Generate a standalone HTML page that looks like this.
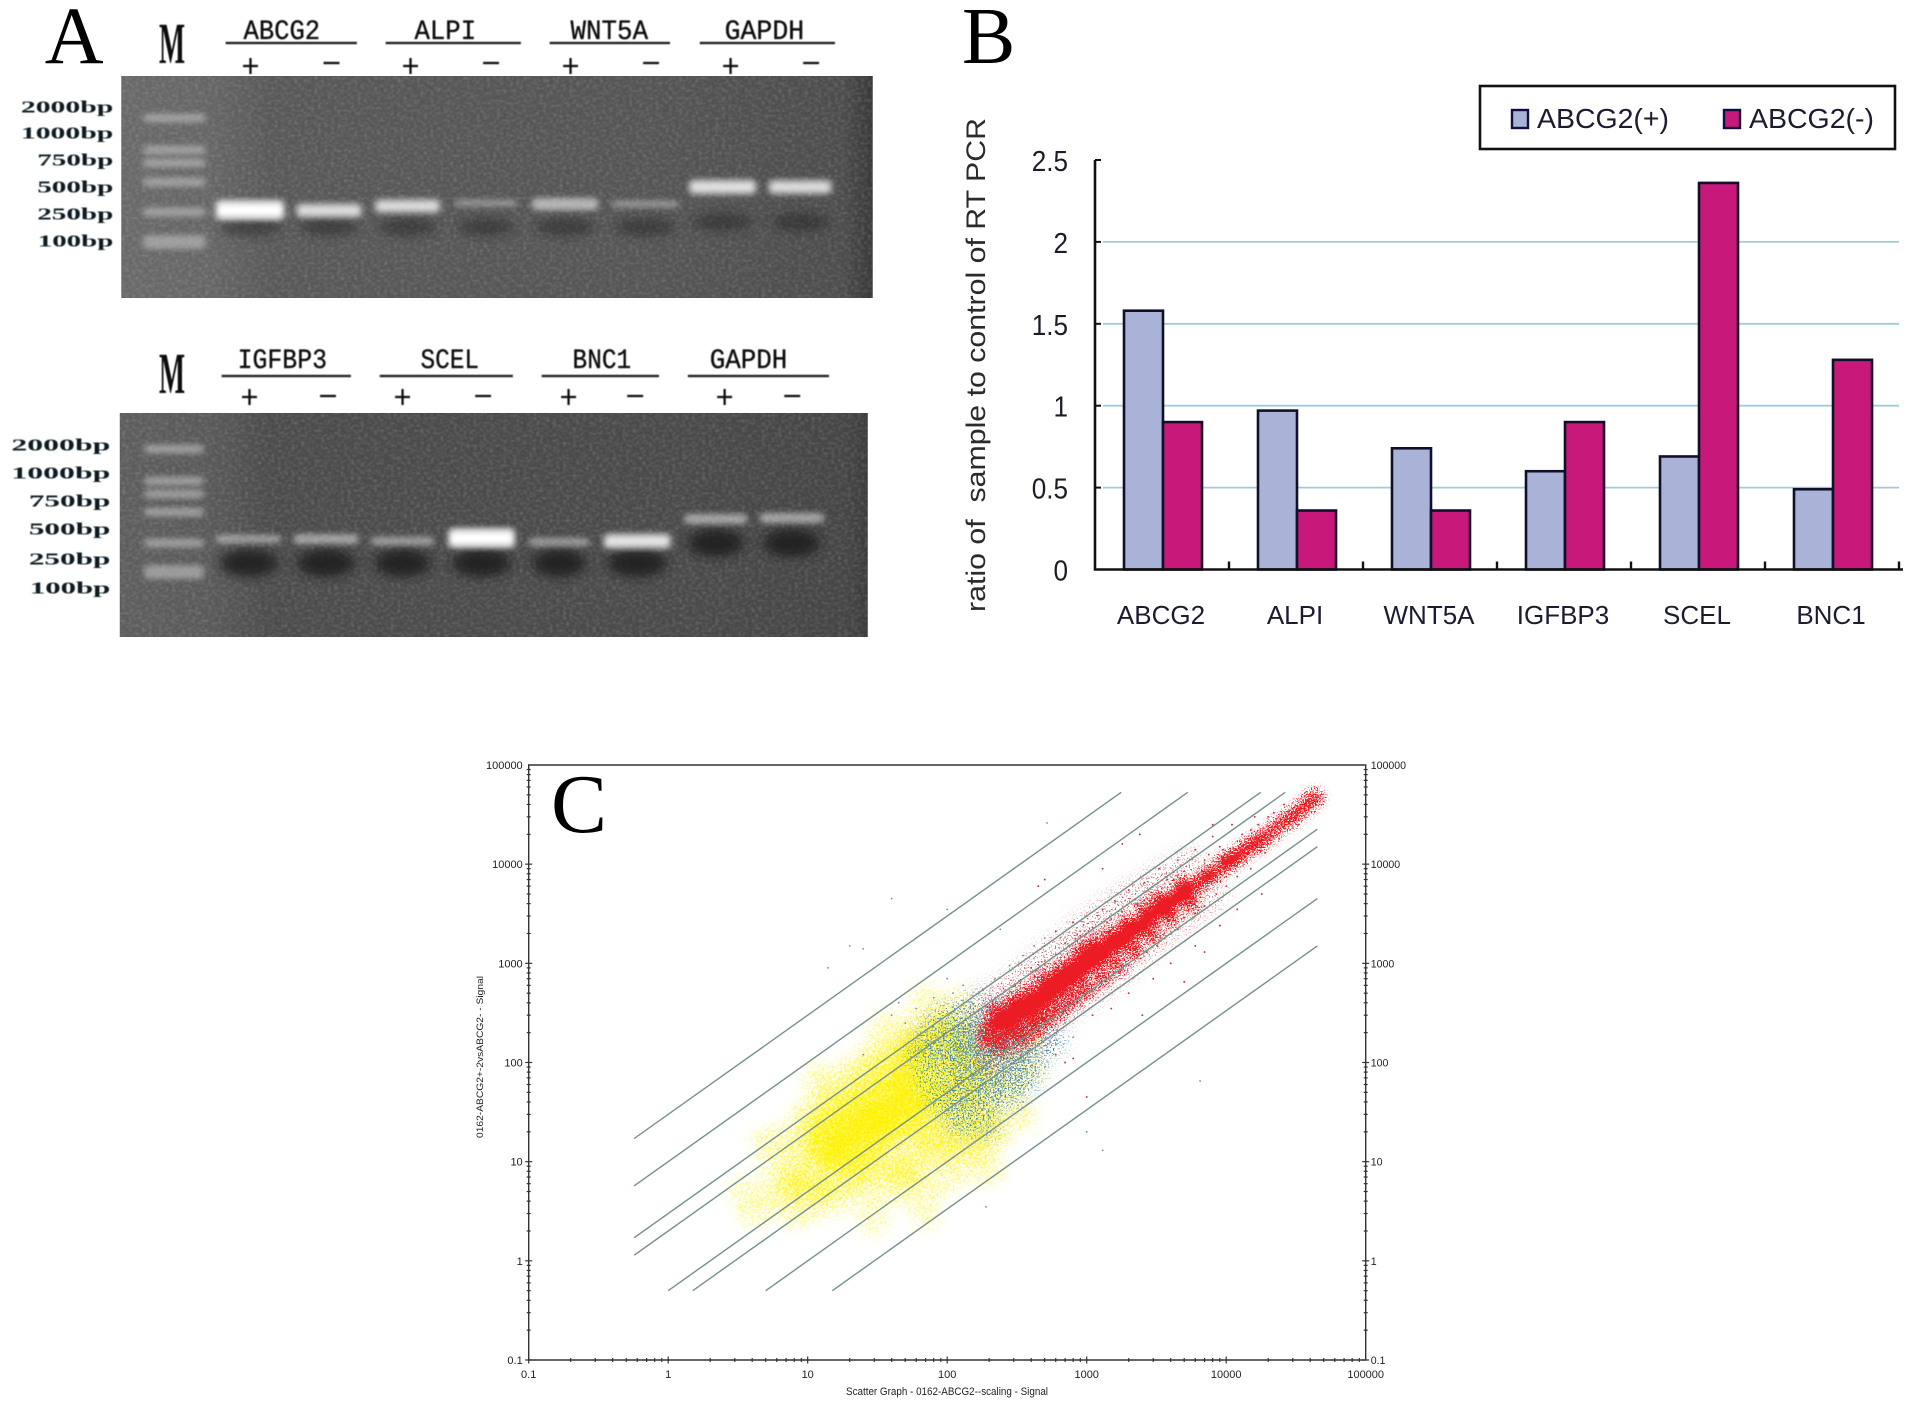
<!DOCTYPE html>
<html lang="en">
<head>
<meta charset="utf-8">
<title>RT-PCR gels, expression ratios and scatter graph</title>
<style>
html,body{margin:0;padding:0;background:#fff;}
svg{display:block;}
text{font-family:"Liberation Sans",sans-serif;white-space:pre;}
.mono{font-family:"Liberation Mono",monospace;}
.serif{font-family:"Liberation Serif",serif;}
</style>
</head>
<body>
<svg id="figure" xmlns="http://www.w3.org/2000/svg" width="1913" height="1419" viewBox="0 0 1913 1419">
<defs>
<linearGradient id="gelShade1" x1="0" x2="1" y1="0" y2="0">
<stop offset="0" stop-color="#686868"/><stop offset=".12" stop-color="#646464"/><stop offset=".2" stop-color="#575757"/><stop offset=".7" stop-color="#535353"/><stop offset=".96" stop-color="#4b4b4b"/><stop offset="1" stop-color="#373737"/>
</linearGradient>
<linearGradient id="gelShade2" x1="0" x2="1" y1="0" y2="0">
<stop offset="0" stop-color="#5c5c5c"/><stop offset=".12" stop-color="#585858"/><stop offset=".2" stop-color="#4a4a4a"/><stop offset=".75" stop-color="#484848"/><stop offset=".97" stop-color="#444"/><stop offset="1" stop-color="#3a3a3a"/>
</linearGradient>
<filter id="gelNoise" x="0" y="0" width="1" height="1" color-interpolation-filters="sRGB">
<feTurbulence type="fractalNoise" baseFrequency="0.3 0.4" numOctaves="3" seed="8"/>
<feColorMatrix type="matrix" values="0 0 0 0 1  0 0 0 0 1  0 0 0 0 1  1.6 0 0 0 -0.68"/>
<feGaussianBlur stdDeviation="0.7"/>
</filter>
<filter id="blur2" x="-30%" y="-150%" width="160%" height="400%"><feGaussianBlur stdDeviation="3.2 2.6"/></filter>
<filter id="blur1" x="-30%" y="-150%" width="160%" height="400%"><feGaussianBlur stdDeviation="2.4 1.7"/></filter>
<filter id="blur4" x="-30%" y="-100%" width="160%" height="300%"><feGaussianBlur stdDeviation="6 5"/></filter>
<filter id="soft" x="-5%" y="-5%" width="110%" height="110%"><feGaussianBlur stdDeviation="0.45"/></filter>
<clipPath id="clipGel1"><rect x="122" y="76" width="756" height="222"/></clipPath>
<clipPath id="clipGel2"><rect x="120.500" y="413" width="752.500" height="224"/></clipPath>
<filter id="stippleYellow" filterUnits="userSpaceOnUse" x="529" y="765" width="837" height="595" color-interpolation-filters="sRGB">
<feGaussianBlur in="SourceAlpha" stdDeviation="7" result="dens"/>
<feTurbulence type="fractalNoise" baseFrequency="0.75" numOctaves="2" seed="3"/>
<feColorMatrix type="matrix" values="0 0 0 0 0  0 0 0 0 0  0 0 0 0 0  3.5 0 0 0 -1.25" result="na"/>
<feComposite in="dens" in2="na" operator="arithmetic" k1="0" k2="1.12" k3="-1" k4="0"/>
<feComponentTransfer result="mask"><feFuncA type="linear" slope="6" intercept="0"/></feComponentTransfer>
<feFlood flood-color="#fff200"/><feComposite in2="mask" operator="in"/><feGaussianBlur stdDeviation="0.4"/>
</filter>
<filter id="stippleBlue" filterUnits="userSpaceOnUse" x="529" y="765" width="837" height="595" color-interpolation-filters="sRGB">
<feGaussianBlur in="SourceAlpha" stdDeviation="8" result="dens"/>
<feTurbulence type="fractalNoise" baseFrequency="0.6" numOctaves="2" seed="11"/>
<feColorMatrix type="matrix" values="0 0 0 0 0  0 0 0 0 0  0 0 0 0 0  3.5 0 0 0 -1.25" result="na"/>
<feComposite in="dens" in2="na" operator="arithmetic" k1="0" k2="1" k3="-1" k4="0"/>
<feComponentTransfer result="mask"><feFuncA type="linear" slope="7" intercept="0"/></feComponentTransfer>
<feFlood flood-color="#4f86b8"/><feComposite in2="mask" operator="in"/><feGaussianBlur stdDeviation="0.3"/>
</filter>
<filter id="stippleTeal" filterUnits="userSpaceOnUse" x="529" y="765" width="837" height="595" color-interpolation-filters="sRGB">
<feGaussianBlur in="SourceAlpha" stdDeviation="8" result="dens"/>
<feTurbulence type="fractalNoise" baseFrequency="0.6" numOctaves="2" seed="23"/>
<feColorMatrix type="matrix" values="0 0 0 0 0  0 0 0 0 0  0 0 0 0 0  3.5 0 0 0 -1.25" result="na"/>
<feComposite in="dens" in2="na" operator="arithmetic" k1="0" k2="1" k3="-1" k4="0"/>
<feComponentTransfer result="mask"><feFuncA type="linear" slope="7" intercept="0"/></feComponentTransfer>
<feFlood flood-color="#4a9488"/><feComposite in2="mask" operator="in"/><feGaussianBlur stdDeviation="0.3"/>
</filter>
<filter id="stippleFringe" filterUnits="userSpaceOnUse" x="529" y="765" width="837" height="595" color-interpolation-filters="sRGB">
<feGaussianBlur in="SourceAlpha" stdDeviation="9" result="dens"/>
<feTurbulence type="fractalNoise" baseFrequency="0.65" numOctaves="2" seed="31"/>
<feColorMatrix type="matrix" values="0 0 0 0 0  0 0 0 0 0  0 0 0 0 0  3.5 0 0 0 -1.25" result="na"/>
<feComposite in="dens" in2="na" operator="arithmetic" k1="0" k2="1" k3="-1" k4="0"/>
<feComponentTransfer result="mask"><feFuncA type="linear" slope="7" intercept="0"/></feComponentTransfer>
<feFlood flood-color="#b0303c"/><feComposite in2="mask" operator="in"/><feGaussianBlur stdDeviation="0.3"/>
</filter>
<filter id="stippleRed" filterUnits="userSpaceOnUse" x="529" y="765" width="837" height="595" color-interpolation-filters="sRGB">
<feGaussianBlur in="SourceAlpha" stdDeviation="4.5" result="dens"/>
<feTurbulence type="fractalNoise" baseFrequency="0.7" numOctaves="2" seed="5"/>
<feColorMatrix type="matrix" values="0 0 0 0 0  0 0 0 0 0  0 0 0 0 0  3.5 0 0 0 -1.25" result="na"/>
<feComposite in="dens" in2="na" operator="arithmetic" k1="0" k2="1.45" k3="-1" k4="0"/>
<feComponentTransfer result="mask"><feFuncA type="linear" slope="6" intercept="0"/></feComponentTransfer>
<feFlood flood-color="#ec1c24"/><feComposite in2="mask" operator="in"/><feGaussianBlur stdDeviation="0.3"/>
</filter>
</defs>

<g id="panelA" transform="scale(0.994 1)"></g>
<g id="panelB"></g>
<g id="panelC"></g>
</svg>

<script>
/* ---------- Panel B data ---------- */
const barCategories = ['ABCG2','ALPI','WNT5A','IGFBP3','SCEL','BNC1'];
const barPlusValues = [1.58,0.97,0.74,0.6,0.69,0.49];
const barMinusValues = [0.9,0.36,0.36,0.9,2.36,1.28];
const barTickLabels = ['0','0.5','1','1.5','2','2.5'];
const barTickValues = [0,0.5,1,1.5,2,2.5];
const barSeriesNames = ['ABCG2(+)','ABCG2(-)'];

/* ---------- Panel A data ---------- */
const gelLadderLabels = ['2000bp','1000bp','750bp','500bp','250bp','100bp'];
const gel1Genes = ['ABCG2','ALPI','WNT5A','GAPDH'];
const gel2Genes = ['IGFBP3','SCEL','BNC1','GAPDH'];
const gel1BandBp = [231,228,256,277,270,270,422,422];
const gel1BandIntensity = [1,0.62,0.6,0.08,0.45,0.1,0.66,0.62];
const gel2BandBp = [244,244,231,251,225,231,420,431];
const gel2BandIntensity = [0.2,0.3,0.22,1,0.2,0.7,0.32,0.32];

/* ---------- Panel C data (signal units) ---------- */
const scatterTickLabels = ['0.1','1','10','100','1000','10000','100000'];
const scatterTickValues = [0.1,1,10,100,1000,10000,100000];
const foldChangeLines = [30,10,3,2,0.5,0.3333,0.1,0.0333];
const yellowCorePoints = [[12,12],[14,17],[16,13],[18,22],[20,15],[22,28],[24,19],[26,12],[28,33],[30,24],[32,16],[35,40],[38,28],[40,20],[45,48],[48,32],[52,24],[58,42],[62,30],[70,50],[14,10],[18,11],[22,10],[12,20],[16,27],[20,35],[26,45],[33,55],[42,65],[55,70],[25,25],[30,30],[35,22],[20,20],[40,38],[17,16],[28,18],[50,40],[15,13],[33,27]];
const yellowMidPoints = [[8,7],[9,13],[7,5],[10,6],[11,25],[14,38],[18,50],[24,70],[30,90],[40,110],[50,140],[65,170],[85,200],[60,95],[80,75],[100,60],[120,45],[150,40],[90,35],[70,22],[100,25],[130,20],[85,15],[60,14],[40,11],[30,8],[22,7],[16,6],[12,5],[180,30],[60,8],[100,12],[150,14],[200,20],[45,7],[110,90],[75,120],[140,70],[45,85],[200,60],[100,150],[130,110],[60,140],[90,250],[120,180],[170,90],[50,60],[75,50]];
const yellowSparsePoints = [[5,4],[6,8],[4,3],[6,13],[8,20],[10,32],[14,55],[20,85],[30,130],[45,190],[60,260],[90,300],[130,260],[170,170],[250,120],[300,70],[280,40],[250,22],[180,12],[130,8],[90,6],[60,5],[40,5],[25,4.5],[16,4],[10,3.5],[8,3],[3.5,5],[5,16],[12,70],[35,230],[70,450],[130,420],[400,90],[350,30],[200,8],[70,3],[30,2.5],[400,180]];
const bluePoints = [[130,170],[160,220],[190,140],[220,110],[170,90],[250,190],[290,130],[350,100],[150,120],[120,100],[300,80],[400,160],[200,300],[260,300],[140,250],[180,70],[240,70],[110,140],[350,220],[450,120],[100,220],[130,320],[500,200],[200,190],[230,150],[170,170],[280,210],[80,130],[220,45],[300,45],[150,50],[130,35],[400,70],[110,60],[90,300],[70,200],[170,420],[110,25],[200,22],[600,160]];
const tealPoints = [[120,130],[140,180],[170,120],[200,90],[230,170],[260,130],[310,110],[150,90],[100,100],[90,170],[180,250],[240,260],[320,190],[380,120],[130,60],[170,55],[220,60],[280,60],[340,70],[110,40],[160,30],[200,35],[70,90],[75,60],[120,200],[190,170],[150,140],[210,130],[60,130],[90,40],[140,22]];
const redFringePoints = [[180,260],[220,420],[280,560],[360,720],[460,950],[600,1300],[800,1800],[1050,2400],[1400,3200],[1900,4300],[2700,5800],[3800,7600],[5500,10500],[200,110],[260,130],[340,170],[450,230],[600,300],[800,420],[1050,560],[1400,720],[1900,1000],[2700,1500],[3800,2200],[5500,3300],[8000,5000]];
const redBandPoints = [[190,170],[200,220],[220,260],[250,200],[260,320],[290,250],[320,210],[320,380],[360,300],[400,420],[420,280],[450,360],[480,520],[520,400],[550,600],[580,470],[640,560],[680,760],[720,600],[800,850],[850,700],[900,1050],[950,820],[1050,1000],[1100,1300],[1200,1050],[1300,1450],[1400,1200],[1550,1650],[1700,1500],[1800,2000],[2000,1800],[2200,2400],[2400,2200],[2700,2900],[3000,2800],[3300,3600],[3700,3500],[4000,4300],[4600,4700],[5300,5600],[6000,6000],[6900,7200],[8000,8000],[9500,10000],[11000,11000],[13000,13500],[15000,15000],[18000,18000],[21000,21000],[25000,26000],[29000,29000],[33000,34000],[38000,40000],[43000,47000],[250,260],[300,300],[350,350],[450,450],[600,600],[750,750],[1000,1000],[1250,1250],[1600,1600],[2100,2100],[2500,2500],[3500,3700],[4300,4500],[5000,5100],[7500,7600],[10000,10500],[12000,12000],[16500,16500],[220,340],[240,150],[300,420],[330,170],[380,500],[420,210],[480,680],[520,270],[600,780],[650,340],[720,950],[800,430],[900,1350],[1000,540],[1100,1600],[1300,720],[1450,1950],[1700,950],[1900,2500],[2200,1350],[2600,3500],[3000,1900],[3300,4500],[4000,2900],[4800,6200],[5600,4000]];
const redOutliers = [[400,900],[500,1500],[600,2100],[700,1600],[800,2600],[900,1900],[1000,3000],[1100,2300],[1300,3500],[1400,2600],[1600,4200],[1800,3300],[2000,5500],[2300,3900],[2600,6500],[2900,5200],[3300,9000],[3800,7000],[4500,11000],[5000,8500],[6000,14000],[7000,11000],[8000,19000],[9000,15000],[11000,25000],[13000,20000],[16000,30000],[20000,30000],[26000,40000],[600,1000],[900,1400],[1500,2800],[2800,4300],[4200,7000],[7500,12500],[15000,22000],[400,220],[500,280],[600,330],[700,350],[800,420],[900,520],[1000,450],[1200,600],[1400,700],[1700,800],[2000,950],[2300,1200],[2700,1300],[3200,1500],[3600,2000],[4500,2200],[5000,2900],[6000,3200],[7000,3800],[8500,5000],[10000,6000],[12000,7500],[15000,9000],[19000,13000],[24000,18000],[33000,25000],[1100,300],[1500,350],[2000,500],[3000,700],[4000,1000],[6000,1500],[9000,2400],[12000,3500],[18000,5000],[600,120],[800,110],[2500,300],[7000,1300],[5000,650],[500,7000],[450,6000],[1300,9000],[1800,16000],[2400,20000],[8000,25000],[1000,45],[700,100],[650,850],[850,1300],[1150,1700],[1450,2100],[1900,2800],[2400,3500],[3100,4500],[700,500],[950,700],[1250,950],[1650,1250],[2200,1650],[2800,2100],[3800,2800],[5200,4000],[7200,5500],[9500,14000],[12500,17000],[17000,25000],[22000,33000],[10000,7500],[14000,10500],[20000,16000]];
const greyOutliers = [[520,26000],[100,3500],[40,4500],[20,1500],[25,1400],[14,900],[200,2000],[240,2200],[6500,65],[1000,20],[1300,13],[190,3.5],[60,350],[80,450],[100,700],[110,500],[130,600],[150,450],[180,550],[220,700],[280,950],[350,1200],[420,1500],[500,1800],[600,300],[700,250],[800,180],[600,150],[500,90],[400,60],[350,40],[40,300],[50,250],[25,120],[45,400]];

/* ---------- helpers ---------- */
const NS = 'http://www.w3.org/2000/svg';
function mk(tag, parent, geo) {
  const el = document.createElementNS(NS, tag);
  for (const k in geo) el.setAttribute(k, geo[k]);
  parent.appendChild(el);
  return el;
}
function label(parent, str, geo, name) {
  const el = mk('text', parent, geo);
  el.textContent = str;
  
  
  return el;
}

/* ---------- Panel A ---------- */
const panelA = document.getElementById('panelA');
const gelLayouts = [
 {id:1, x:122, y:76, w:756, h:222, shade:'gelShade1', clip:'clipGel1', genes:gel1Genes, bp:gel1BandBp, inten:gel1BandIntensity,
  lanes:[[216,287],[297,365],[376,444],[456,522],[534,603],[614,684],[692,762],[772,838]],
  ladderRows:[118,150,163,182,212,242], ladderX:[144,207], y100:242, perDecade:88, smear:[227,227,227,227,227,227,222,222],
  labelRight:114, labelLeft:[21,21,37.5,37.5,37.5,38], labelY:[107,133,160,187,214,241],
  lineY:43, lines:[[227,359],[388,524],[553,674],[704,840]], names:[[245,322],[417,479],[574,652],[729,809]], nameBase:39, M:[160,63],
  plusX:[252,413,574,735], minusX:[333.5,494,655,816], plusY:66, minusY:63},
 {id:2, x:120.5, y:413, w:752.5, h:224, shade:'gelShade2', clip:'clipGel2', genes:gel2Genes, bp:gel2BandBp, inten:gel2BandIntensity,
  lanes:[[216,284],[294,362],[372,438],[450,519],[531,594],[606,676],[687,753],[763,830]],
  ladderRows:[449,481,494,512,543,572], ladderX:[145,205], y100:572, perDecade:85, smear:[563,563,563,563,563,563,543,543],
  labelRight:111, labelLeft:[11.5,11.5,29,29,29,30], labelY:[445,473,501,529,559,588],
  lineY:376, lines:[[223,353],[382,516],[545,663],[692,834]], names:[[239,329],[423,482],[576,635],[714,792]], nameBase:368, M:[160,393],
  plusX:[251,405,572,729], minusX:[330,486,639,797], plusY:397, minusY:396}
];
gelLayouts.forEach(function (g) {
  const group = mk('g', panelA, {});
  
  
  const base = mk('rect', group, {x:g.x, y:g.y, width:g.w, height:g.h, fill:'url(#' + g.shade + ')'});
  
  
  const inner = mk('g', group, {'clip-path':'url(#' + g.clip + ')'});
  const noise = mk('rect', inner, {x:g.x, y:g.y, width:g.w, height:g.h, filter:'url(#gelNoise)', opacity:0.3});
  
  
  g.ladderRows.forEach(function (ry, i) {
    const thick = i === 5 ? 14 : 9;
    const rung = mk('rect', inner, {x:g.ladderX[0], y:ry - thick / 2, width:g.ladderX[1] - g.ladderX[0], height:thick, rx:4, fill:'#b8b8b8', opacity:0.68, filter:'url(#blur2)'});
    
    
  });
  g.lanes.forEach(function (lane, i) {
    const cx = (lane[0] + lane[1]) / 2, rx = (lane[1] - lane[0]) / 2;
    const smear = mk('ellipse', inner, {cx:cx, cy:g.smear[i], rx:rx * 0.85, ry:g.id === 2 ? 14 : 9, fill:'#1e1e1e', opacity:g.id === 2 ? 0.85 : 0.45, filter:'url(#blur4)'});
    
    
    const y = g.y100 - g.perDecade * (Math.log10(g.bp[i]) - 2);
    const v = g.inten[i];
    const th = 6 + v * 14;
    const glow = mk('rect', inner, {x:lane[0] + 1, y:y - th / 2, width:lane[1] - lane[0] - 2, height:th, rx:5, fill:'#e4e4e4', opacity:0.35 + v * 0.65, filter:'url(#blur2)'});
    
    
    if (v >= 0.6) {
      const core = mk('rect', inner, {x:lane[0] + 5, y:y - th / 5, width:lane[1] - lane[0] - 10, height:th * 0.4, rx:2, fill:'#fff', opacity:v * v, filter:'url(#blur1)'});
      
      
    }
  });
  const textGroup = mk('g', group, {filter:'url(#soft)'});
  gelLadderLabels.forEach(function (s, i) {
    label(textGroup, s, {x:g.labelLeft[i], y:g.labelY[i] + 5.5, 'font-size':16.5, 'font-weight':'bold', fill:'#0b1d22', class:'serif', textLength:g.labelRight - g.labelLeft[i], lengthAdjust:'spacingAndGlyphs'}, 'ladder-label-' + s);
  });
  label(textGroup, 'M', {transform:'translate(' + g.M[0] + ',' + g.M[1] + ') scale(.48,1)', x:0, y:0, 'font-size':58, 'font-weight':'bold', fill:'#111', class:'serif'}, 'marker-lane-label');
  g.genes.forEach(function (name, i) {
    label(textGroup, name, {x:g.names[i][0], y:g.nameBase, 'font-size':28, fill:'#111', stroke:'#111', 'stroke-width':0.35, class:'mono', textLength:g.names[i][1] - g.names[i][0], lengthAdjust:'spacingAndGlyphs'}, 'gene-label-' + name.toLowerCase());
    const rule = mk('rect', textGroup, {x:g.lines[i][0], y:g.lineY - 1.2, width:g.lines[i][1] - g.lines[i][0], height:2.4, fill:'#222'});
    
    
    const pv = mk('path', textGroup, {d:'M' + (g.plusX[i] - 7.5) + ' ' + g.plusY + 'h15M' + g.plusX[i] + ' ' + (g.plusY - 8) + 'v16', stroke:'#111', 'stroke-width':2.3, fill:'none'});
    
    
    const mv = mk('path', textGroup, {d:'M' + (g.minusX[i] - 8) + ' ' + g.minusY + 'h16', stroke:'#111', 'stroke-width':2.3, fill:'none'});
    
    
  });
});
label(panelA, 'A', {x:45, y:63, 'font-size':82, fill:'#000', class:'serif'}, 'panel-letter-a');

/* ---------- Panel B ---------- */
const panelB = document.getElementById('panelB');
const bx0 = 1095, bStep = 134, bBase = 569.5, bUnit = 163.8, bBar = 39;
function barY(v) { return bBase - v * bUnit; }
function barX(i) { return bx0 + bStep * i + bStep / 2 + 1; }
label(panelB, 'B', {x:962, y:63, 'font-size':80, fill:'#000', class:'serif'}, 'panel-letter-b');
barTickValues.forEach(function (v, i) {
  if (v > 0 && v < 2.5) {
    const gl = mk('line', panelB, {x1:bx0 + 8, x2:bx0 + bStep * 6, y1:barY(v), y2:barY(v), stroke:'#a3cbd6', 'stroke-width':1.8});
    
    
  }
  label(panelB, barTickLabels[i], {x:1070, y:barY(v) + 11, 'font-size':29, fill:'#1c1c28', 'text-anchor':'end', transform:'translate(105,0) scale(.9,1)'}, 'y-tick-label');
  const tk = mk('line', panelB, {x1:bx0, x2:bx0 + 6, y1:barY(v), y2:barY(v), stroke:'#111', 'stroke-width':2});
  
  
});
barCategories.forEach(function (c, i) {
  const cx = barX(i);
  const plus = mk('rect', panelB, {x:cx - bBar, y:barY(barPlusValues[i]), width:bBar, height:barY(0) - barY(barPlusValues[i]), fill:'#a9b3d7', stroke:'#101028', 'stroke-width':2.6});
  
  
  const minus = mk('rect', panelB, {x:cx, y:barY(barMinusValues[i]), width:bBar, height:barY(0) - barY(barMinusValues[i]), fill:'#c8197a', stroke:'#101028', 'stroke-width':2.6});
  
  
  label(panelB, c, {x:cx - 2, y:624, 'font-size':26, fill:'#1c1c30', 'text-anchor':'middle'}, 'x-category-label');
  const tk = mk('line', panelB, {x1:bx0 + bStep * (i + 1), x2:bx0 + bStep * (i + 1), y1:bBase, y2:bBase - 8, stroke:'#111', 'stroke-width':2.4});
  
  
});
const yAxisB = mk('line', panelB, {x1:bx0, x2:bx0, y1:barY(2.5), y2:bBase + 1, stroke:'#111', 'stroke-width':2.6});


const xAxisB = mk('line', panelB, {x1:bx0 - 1, x2:bx0 + bStep * 6 + 4, y1:bBase, y2:bBase, stroke:'#111', 'stroke-width':2.6});


label(panelB, 'ratio of  sample to control of RT PCR', {transform:'translate(985,612) rotate(-90)', x:0, y:0, 'font-size':27, fill:'#2b2b2b', textLength:494, lengthAdjust:'spacingAndGlyphs'}, 'y-axis-title');
const legendB = mk('g', panelB, {});


const legBox = mk('rect', legendB, {x:1480, y:86, width:415, height:63, fill:'#fff', stroke:'#111', 'stroke-width':2.6});


const sw1 = mk('rect', legendB, {x:1512, y:110, width:16, height:18, fill:'#a9b3d7', stroke:'#101040', 'stroke-width':2.4});


label(legendB, barSeriesNames[0], {x:1537, y:128, 'font-size':28, fill:'#1c1c30', textLength:132, lengthAdjust:'spacingAndGlyphs'}, 'legend-entry-plus');
const sw2 = mk('rect', legendB, {x:1724, y:110, width:16, height:18, fill:'#c8197a', stroke:'#101040', 'stroke-width':2.4});


label(legendB, barSeriesNames[1], {x:1749, y:128, 'font-size':28, fill:'#1c1c30', textLength:125, lengthAdjust:'spacingAndGlyphs'}, 'legend-entry-minus');

/* ---------- Panel C ---------- */
const panelC = document.getElementById('panelC');
const cLeft = 528.7, cRight = 1365.7, cTop = 765, cBottom = 1360;
const perDecX = (cRight - cLeft) / 6, perDecY = (cBottom - cTop) / 6;
function sx(v) { return cLeft + (Math.log10(v) + 1) * perDecX; }
function sy(v) { return cBottom - (Math.log10(v) + 1) * perDecY; }

function cloud(points, filterId, r, op, name) {
  const g = mk('g', panelC, {filter:'url(#' + filterId + ')'});
  
  
  points.forEach(function (p) {
    const c = mk('circle', g, {cx:sx(p[0]), cy:sy(p[1]), r:r, 'fill-opacity':op, fill:'#000'});
    
    
  });
  return g;
}
function dots(points, color, r, name) {
  points.forEach(function (p) {
    const c = mk('circle', panelC, {cx:sx(p[0]), cy:sy(p[1]), r:r, fill:color});
    
    
  });
}
/* yellow density is layered: sparse halo, mid body, solid core */
const yellowLayer = mk('g', panelC, {filter:'url(#stippleYellow)'});


[[yellowSparsePoints, 16, 0.17], [yellowMidPoints, 16, 0.36], [yellowCorePoints, 13, 0.55]].forEach(function (layer) {
  layer[0].forEach(function (p) {
    const c = mk('circle', yellowLayer, {cx:sx(p[0]), cy:sy(p[1]), r:layer[1], 'fill-opacity':layer[2], fill:'#000'});
    
    
  });
});
cloud(tealPoints, 'stippleTeal', 14, 0.13, 'teal');
cloud(bluePoints, 'stippleBlue', 14, 0.13, 'blue');
dots(greyOutliers, '#6d8fa8', 0.9, 'outlier-point');
dots(redOutliers, '#b53a3a', 0.95, 'red-outlier-point');
cloud(redFringePoints, 'stippleFringe', 15, 0.12, 'red-fringe');
cloud(redBandPoints, 'stippleRed', 8, 0.62, 'red');

foldChangeLines.forEach(function (k) {
  const xa = Math.max(0.57, 0.5 / k), xb = Math.min(45000, 53000 / k);
  const line = mk('line', panelC, {x1:sx(xa), y1:sy(xa * k), x2:sx(xb), y2:sy(xb * k), stroke:'#76908c', 'stroke-width':1.4});
  
  
});

const frame = mk('path', panelC, {d:'M' + cLeft + ' ' + cTop + 'H' + cRight + 'V' + cBottom + 'H' + cLeft + 'Z', fill:'none', stroke:'#333', 'stroke-width':1.4});


scatterTickValues.forEach(function (v, i) {
  label(panelC, scatterTickLabels[i], {x:cLeft - 6, y:sy(v) + 4, 'font-size':11, fill:'#222', 'text-anchor':'end'}, 'left-tick-label');
  label(panelC, scatterTickLabels[i], {x:cRight + 5, y:sy(v) + 4, 'font-size':10.6, fill:'#222'}, 'right-tick-label');
  label(panelC, scatterTickLabels[i], {x:sx(v), y:1378, 'font-size':11, fill:'#222', 'text-anchor':'middle'}, 'bottom-tick-label');
  if (i === 6) return;
  for (let m = 1; m <= 9; m++) {
    const val = v * m, len = m === 1 ? 3.5 : 2;
    const a = mk('line', panelC, {x1:cLeft - len, x2:cLeft + len, y1:sy(val), y2:sy(val), stroke:'#333', 'stroke-width':1.2});
    
    
    const b = mk('line', panelC, {x1:cRight - len, x2:cRight + len, y1:sy(val), y2:sy(val), stroke:'#333', 'stroke-width':1.2});
    
    
    const c = mk('line', panelC, {x1:sx(val), x2:sx(val), y1:cBottom - len, y2:cBottom + len, stroke:'#333', 'stroke-width':1.2});
    
    
  }
});
label(panelC, 'Scatter Graph - 0162-ABCG2--scaling - Signal', {x:846, y:1395, 'font-size':11, fill:'#222', textLength:202, lengthAdjust:'spacingAndGlyphs'}, 'x-axis-title');
label(panelC, '0162-ABCG2+-2vsABCG2- - Signal', {transform:'translate(483,1138) rotate(-90)', x:0, y:0, 'font-size':9.5, fill:'#222', textLength:162, lengthAdjust:'spacingAndGlyphs'}, 'y-axis-title');
label(panelC, 'C', {x:551, y:832, 'font-size':84, fill:'#000', class:'serif'}, 'panel-letter-c');
</script>
</body>
</html>
